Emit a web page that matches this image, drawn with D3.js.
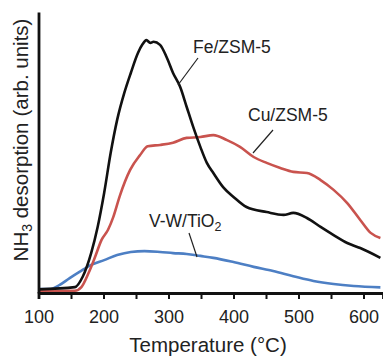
<!DOCTYPE html>
<html><head><meta charset="utf-8">
<script src="https://cdn.jsdelivr.net/npm/d3@7"></script>
<style>html,body{margin:0;padding:0;background:#fff;}svg{display:block;font-family:"Liberation Sans",Arial,sans-serif;}</style>
</head><body>
<svg id="c" width="383" height="358"></svg>
<script>
// Temperature (°C) and NH3 desorption (arb. units, 0-100)
const feT = [100,156,168,181,191,201,211,221,232,242,253,260,266,272,277,287,297,307,318,328,338,349,359,369,384,400,420,451,477,492,513,534,554,575,595,626];
const feV = [1.3,2.1,5.8,14.2,23.5,35.6,49.8,61.6,71.2,78.3,85.4,88.5,90.0,89.0,89.4,88.3,84.0,78.3,73.3,66.2,59.1,52.0,46.3,42.7,37.7,34.2,30.6,28.8,27.8,28.5,26.7,23.5,20.6,17.8,16.0,12.5];
const cuT = [100,156,166,177,187,197,207,215,225,241,256,268,287,307,328,349,369,390,410,431,451,472,492,513,534,554,575,595,611,626];
const cuV = [0.7,0.8,2.1,7.1,12.8,18.9,22.5,27.0,34.5,43.8,49.0,52.2,52.7,53.5,55.2,55.5,56.2,54.4,52.0,48.4,46.3,44.5,43.1,42.7,40.2,36.7,32.0,26.0,21.4,19.6];
const vwT = [100,117,132,148,163,181,201,221,242,263,287,307,328,349,369,400,431,461,492,523,554,585,626];
const vwV = [1.4,1.4,2.8,5.3,7.5,10.0,11.7,13.5,14.6,14.9,14.6,14.2,13.9,13.2,12.5,11.0,9.3,7.8,6.0,4.3,3.2,2.5,2.0];
const xTicks = [100,200,300,400,500,600];
const xMinor = [150,250,350,450,550];
const seriesNames = ["Fe/ZSM-5","Cu/ZSM-5","V-W/TiO2"];

const svg = d3.select("#c");
const x = d3.scaleLinear().domain([100,630]).range([38.5,383]);
const y = d3.scaleLinear().domain([0,100]).range([293,12]);

const line = d3.line().x(d=>x(d[0])).y(d=>y(d[1])).curve(d3.curveMonotoneX);
const series = [
  {T:vwT, V:vwV, color:"#4d7fc4"},
  {T:cuT, V:cuV, color:"#c9534e"},
  {T:feT, V:feV, color:"#111111"}
];
series.forEach(s=>{
  svg.append("path").attr("d", line(s.T.map((t,i)=>[t,s.V[i]])))
    .attr("fill","none").attr("stroke",s.color).attr("stroke-width",2.6).attr("stroke-linejoin","round");
});

// axes
const xAxis = d3.axisBottom(x).tickValues(xTicks).tickSize(6).tickPadding(11).tickFormat(d3.format("d"));
const gx = svg.append("g").attr("transform",`translate(0,${y(0)})`).call(xAxis);
gx.select(".domain").attr("stroke","#111").attr("stroke-width",2.8);
gx.selectAll(".tick line").attr("stroke","#111").attr("stroke-width",2);
gx.selectAll(".tick text").attr("font-size",18).attr("fill","#222").attr("font-family","Liberation Sans, Arial, sans-serif");
const xAxisMinor = d3.axisBottom(x).tickValues(xMinor).tickSize(6).tickFormat("");
const gm = svg.append("g").attr("transform",`translate(0,${y(0)})`).call(xAxisMinor);
gm.select(".domain").remove();
gm.selectAll(".tick line").attr("stroke","#111").attr("stroke-width",2);

const gy = svg.append("g").attr("transform",`translate(${x(100)},0)`).call(d3.axisLeft(y).tickValues([]).tickSizeOuter(0));
gy.select(".domain").attr("stroke","#111").attr("stroke-width",2.8);

// axis titles
svg.append("text").attr("x",208).attr("y",352).attr("text-anchor","middle")
  .attr("font-size",20.5).attr("fill","#222").text("Temperature (\u00B0C)");
const yl = svg.append("text").attr("transform","translate(28,140) rotate(-90)").attr("text-anchor","middle")
  .attr("font-size",20.5).attr("fill","#222");
yl.append("tspan").text("NH");
yl.append("tspan").attr("font-size",14).attr("dy",4).text("3");
yl.append("tspan").attr("dy",-4).text(" desorption");
yl.append("tspan").attr("dx",6).text("(arb. units)");

// series labels with leader lines
const lab = [
  {name:seriesNames[0], tx:193, ty:53, l:[198,58,178,85]},
  {name:seriesNames[1], tx:248, ty:121, l:[273,130,253,153]},
];
lab.forEach(d=>{
  svg.append("text").attr("x",d.tx).attr("y",d.ty).attr("font-size",17.5).attr("fill","#222").text(d.name);
  svg.append("line").attr("x1",d.l[0]).attr("y1",d.l[1]).attr("x2",d.l[2]).attr("y2",d.l[3]).attr("stroke","#222").attr("stroke-width",1.2);
});
const vt = svg.append("text").attr("x",149).attr("y",227).attr("font-size",17.5).attr("fill","#222");
vt.append("tspan").text("V-W/TiO");
vt.append("tspan").attr("font-size",12.5).attr("dy",4).text("2");
svg.append("line").attr("x1",189).attr("y1",233).attr("x2",197).attr("y2",257).attr("stroke","#222").attr("stroke-width",1.2);
</script>
</body></html>
